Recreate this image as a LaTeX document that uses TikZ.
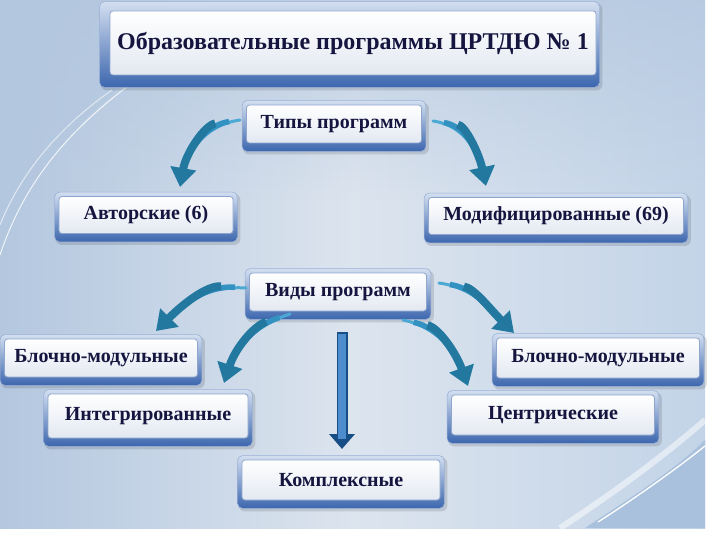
\documentclass[tikz,border=0pt]{standalone}
\usepackage{fontspec}
\setmainfont{Liberation Serif}
\newfontfamily\rus{Liberation Serif}[BoldFont={* Bold}]
\usetikzlibrary{arrows.meta,calc,fadings}
\definecolor{txt}{HTML}{15153F}
\definecolor{bgl}{HTML}{B3C7DF}
\definecolor{bgm}{HTML}{DCE4EE}
\definecolor{bgr}{HTML}{C3D4E8}
\definecolor{bgdark}{HTML}{A9C1DD}
\definecolor{boxbot}{HTML}{E3E8F1}
\definecolor{boxedge}{HTML}{8EA6CE}
\definecolor{frtop}{HTML}{D3DFF0}
\definecolor{frbot}{HTML}{3C66AE}
\definecolor{fredge}{HTML}{9AB0D6}
\definecolor{arrA}{HTML}{4BA9D3}
\definecolor{arrB}{HTML}{3392C2}
\definecolor{arrC}{HTML}{22789F}
\definecolor{arrd}{HTML}{2270C0}
\pgfdeclarelayer{bglayer}
\pgfdeclarelayer{framelayer}
\pgfsetlayers{bglayer,framelayer,main}
\newcommand\swooshA[4]{%
  \draw[arrA, line width=3pt, line cap=round, shorten >=14pt] (#1) to[out=#3,in=#4] (#2);
  \draw[arrB, line width=5.5pt, shorten <=11pt, shorten >=14pt] (#1) to[out=#3,in=#4] (#2);
  \draw[arrC, line width=8pt, shorten <=25pt, -{Triangle[width=25pt,length=19pt]}] (#1) to[out=#3,in=#4] (#2);
}
\tikzset{
  lbl/.style={font=\rus\bfseries\fontsize{20}{24}\selectfont, text=txt, inner sep=0pt,
    rounded corners=3pt, top color=white, bottom color=boxbot, draw=boxedge, line width=0.8pt},
  frame/.style={rounded corners=5pt, top color=frtop, bottom color=frbot, draw=fredge, line width=0.6pt},
  shadowbox/.style={fill=black, opacity=0.12, rounded corners=6pt},
}
\begin{document}
\begin{tikzpicture}[x=1pt,y=1pt]
\useasboundingbox (0,0) rectangle (720,-540);
\begin{pgfonlayer}{bglayer}
  \fill[white] (0,0) rectangle (720,-540);
  \shade[left color=bgl, right color=bgr, middle color=bgm] (0,0) rectangle (705,-528);
  \fill[bgl, opacity=0.7, path fading=south] (0,0) rectangle (705,-200);
  \fill[bgdark] (705,-528) -- (585,-528) .. controls (630,-498) and (675,-470) .. (705,-440) -- cycle;
  \draw[white, opacity=0.5, line width=6pt] (560,-528) .. controls (615,-492) and (665,-455) .. (705,-420);
  \draw[white, line width=1.3pt] (598,-522) .. controls (640,-495) and (680,-466) .. (705,-446);
  \fill[bgl, opacity=0.6] (0,0) -- (120,0) -- (120,-88) .. controls (70,-130) and (25,-180) .. (0,-255) -- cycle;
  \draw[white, opacity=0.8, line width=1pt] (0,-255) .. controls (25,-180) and (70,-130) .. (128,-86);
  \draw[white, opacity=0.6, line width=1pt] (0,-225) .. controls (22,-170) and (62,-125) .. (112,-90);
\end{pgfonlayer}

\node[lbl, font=\rus\bfseries\fontsize{24}{28}\selectfont, minimum width=486pt, minimum height=64pt] (title) at (353,-43) {Образовательные программы ЦРТДЮ № 1};
\node[lbl, minimum width=175pt, minimum height=38pt] (tipy) at (334,-124) {Типы программ};
\node[lbl, minimum width=174pt, minimum height=37pt] (avt) at (146,-215) {Авторские (6)};
\node[lbl, minimum width=255pt, minimum height=37pt] (mod) at (556,-216) {Модифицированные (69)};
\node[lbl, minimum width=177pt, minimum height=38pt] (vidy) at (338,-292) {Виды программ};
\node[lbl, minimum width=193pt, minimum height=38pt] (blL) at (101,-358) {Блочно-модульные};
\node[lbl, minimum width=200pt, minimum height=44pt] (integ) at (148,-416) {Интегрированные};
\node[lbl, minimum width=203pt, minimum height=40pt] (blR) at (598,-358) {Блочно-модульные};
\node[lbl, minimum width=203pt, minimum height=40pt] (centr) at (553,-415) {Центрические};
\node[lbl, minimum width=198pt, minimum height=40pt] (kompl) at (341,-480) {Комплексные};

\begin{pgfonlayer}{framelayer}
  \fill[shadowbox] ($(title.south west)+(-9,-15)$) rectangle ($(title.north east)+(6,7)$);
  \draw[frame] ($(title.south west)+(-10,-12)$) rectangle ($(title.north east)+(3,9)$);
  \foreach \n in {tipy,avt,mod,vidy,blL,integ,blR,centr,kompl}{
    \fill[shadowbox] ($(\n.south west)+(-3,-11)$) rectangle ($(\n.north east)+(7,2)$);
    \draw[frame] ($(\n.south west)+(-4,-8)$) rectangle ($(\n.north east)+(4,4)$);
  }
\end{pgfonlayer}

\coordinate (t1) at (240,-120);
\coordinate (h1) at (180,-187);
\coordinate (t2) at (433,-121);
\coordinate (h2) at (486,-186);
\coordinate (t3) at (246,-288);
\coordinate (h3) at (156,-331);
\coordinate (t4) at (290,-314);
\coordinate (h4) at (224,-383);
\coordinate (t5) at (439,-283);
\coordinate (h5) at (514,-333);
\coordinate (t6) at (403,-320);
\coordinate (h6) at (468,-386);
\swooshA{t1}{h1}{188}{80}
\swooshA{t2}{h2}{-8}{102}
\swooshA{t3}{h3}{176}{45}
\swooshA{t4}{h4}{198}{72}
\swooshA{t5}{h5}{-8}{135}
\swooshA{t6}{h6}{-12}{110}

\coordinate (dtop) at (342,-332);
\coordinate (dbot) at (342,-449);
\draw[arrd!70!black, line width=11pt, -{Triangle[width=25pt,length=15pt]}] (dtop) -- (dbot);
\draw[arrd!80!white, line width=8pt, shorten >=10pt] ($(dtop)+(0,-1.5)$) -- (dbot);
\end{tikzpicture}
\end{document}
